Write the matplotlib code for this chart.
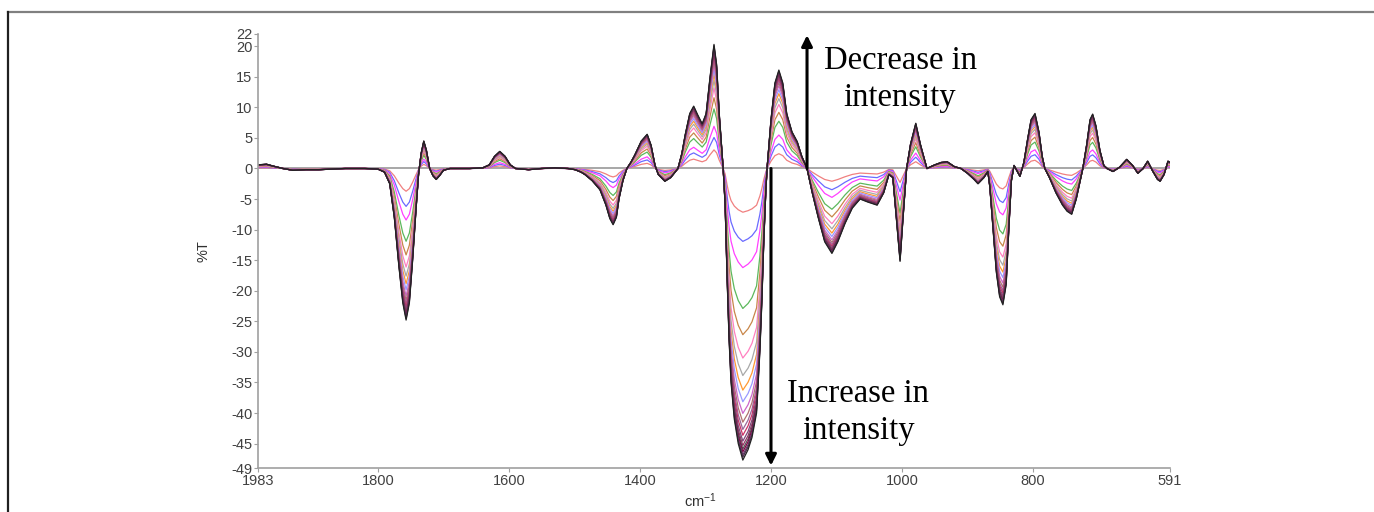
import matplotlib
matplotlib.use('Agg')
from matplotlib import pyplot as plt
from matplotlib.lines import Line2D
import numpy as np

plt.rcParams['font.family'] = ['Liberation Sans', 'DejaVu Sans']
plt.rcParams['mathtext.default'] = 'regular'

# wavenumbers (cm-1) of the outermost (last) spectrum
numeroOnda = [1983, 1970, 1960, 1945, 1930, 1910, 1890, 1870, 1850, 1820, 1800,
              1790, 1782, 1775, 1768, 1762, 1757, 1752, 1747, 1742, 1738, 1734,
              1730, 1726, 1721, 1716, 1711, 1706, 1700, 1690, 1660, 1640, 1630,
              1622, 1614, 1606, 1598, 1590, 1570, 1550, 1530, 1510, 1499, 1490,
              1484, 1473, 1461, 1452, 1446, 1441, 1436, 1432, 1426, 1420, 1414,
              1408, 1398, 1389, 1383, 1377, 1372, 1362, 1353, 1342, 1336, 1331,
              1324, 1318, 1312, 1305, 1299, 1293, 1287, 1283, 1279, 1273, 1270,
              1267, 1264, 1261, 1256, 1250, 1243, 1235, 1229, 1222, 1217, 1214,
              1211, 1208, 1206, 1200, 1194, 1188, 1182, 1176, 1168, 1160, 1153,
              1145, 1137, 1128, 1118, 1107, 1098, 1087, 1076, 1064, 1052, 1038,
              1028, 1020, 1014, 1008, 1003, 999, 993, 987, 979, 972, 962, 950,
              940, 931, 920, 910, 900, 890, 884, 875, 869, 866, 861, 856, 851,
              846, 841, 837, 833, 829, 824, 820, 814, 808, 803, 797, 791, 786,
              782, 775, 765, 755, 748, 741, 734, 728, 724, 718, 713, 709, 704,
              698, 692, 687, 678, 668, 657, 648, 640, 632, 625, 617, 610, 606,
              600, 596, 594, 591]

# %T of the outermost spectrum
transmitancia = [0.6, 0.7, 0.4, 0.0, -0.3, -0.2, -0.2, -0.1, 0.0, 0.0, -0.1,
                 -0.6, -2.5, -8, -16, -22, -24.8, -22, -15, -7, -1, 2.5,
                 4.5, 3, 0, -1.2, -1.8, -1.2, -0.3, 0, 0, 0.1, 0.6,
                 2, 2.8, 2, 0.6, 0, -0.2, 0, 0.1, 0, -0.2, -0.6,
                 -1, -2, -3.5, -6, -8.2, -9.2, -8, -5, -2, 0, 1,
                 2.2, 4.5, 5.6, 3.8, 0.5, -1, -2.1, -1.5, 0, 2.5, 5.5,
                 9, 10.2, 8.8, 7.3, 9, 15, 20.3, 17, 9, 0, -6,
                 -18, -28, -35, -41, -45, -47.7, -46, -44, -40, -30, -22,
                 -12, -4, 0, 8, 14, 16.1, 14, 9, 6, 4.4, 2,
                 0, -4, -8, -12, -13.9, -12, -9, -6.5, -5, -5.5, -6,
                 -4, -1, -1.5, -9, -15.2, -9, 0, 4, 7.4, 4, 0, 0.6,
                 1, 1.1, 0.3, 0, -0.8, -1.8, -2.5, -1.5, -0.5, -3, -10, -17, -21,
                 -22.3, -19, -10, -2, 0.5, -0.5, -1.3, 1, 5, 8, 9.0, 6, 2,
                 0, -1.5, -4, -6, -7, -7.5, -5, -2, 0, 4, 8, 8.9, 7,
                 3, 0.5, 0, -0.5, 0.2, 1.5, 0.5, -0.8, 0, 1.2, -0.5, -1.8, -2.1,
                 -1, 0.5, 1.2, 1.0]

# relative size of each spectrum compared to the last one
escalas = [0.15, 0.25, 0.34, 0.48, 0.57, 0.65, 0.71, 0.76, 0.8, 0.84, 0.87,
           0.895, 0.915, 0.935, 0.95, 0.962, 0.972, 0.982, 0.99, 1.0]

colores = ['#f08080', '#6a6aff', '#ff40ff', '#5cb85c', '#c8864a', '#ff80c0',
           '#a8a8a8', '#ff9933', '#9999ff', '#cc66cc', '#b07070', '#996699',
           '#cc3366', '#7a4a7a', '#993366', '#555555', '#800040', '#6b3a6b',
           '#4b2d4b', '#222222']

ticksX = [1983, 1800, 1600, 1400, 1200, 1000, 800, 591]
ticksY = [22, 20, 15, 10, 5, 0, -5, -10, -15, -20, -25, -30, -35, -40, -45, -49]

fig = plt.figure(figsize=(13.74, 5.12), dpi=100)
ax = fig.add_axes([0.1878, 0.0859, 0.6637, 0.8477])

x = np.array(numeroOnda)
y = np.array(transmitancia)
for escala, color in zip(escalas, colores):
    ax.plot(x, y * escala, color=color, lw=0.9)

ax.axhline(0, color='#a0a0a0', lw=1.3, zorder=0)

ax.set_xlim(1983, 591)
ax.set_ylim(-49, 22)
ax.set_xticks(ticksX)
ax.set_yticks(ticksY)
ax.set_xticklabels([str(t) for t in ticksX])
ax.set_yticklabels([str(t) for t in ticksY])
ax.tick_params(colors='#a0a0a0', labelcolor='#404040', labelsize=10.5,
               length=3, width=0.8, pad=1)

for lado in ['top', 'right']:
    ax.spines[lado].set_visible(False)
for lado in ['left', 'bottom']:
    ax.spines[lado].set_color('#a0a0a0')
    ax.spines[lado].set_linewidth(1.2)

ax.set_ylabel('%T', fontsize=10.5, color='#303030')
ax.yaxis.set_label_coords(-0.052, 0.5)
ax.set_xlabel('cm$^{-1}$', fontsize=10.5, color='#303030')
ax.xaxis.set_label_coords(0.485, -0.055)

# flechas y textos
ax.annotate('', xy=(1145, 21.8), xytext=(1145, 0),
            arrowprops=dict(arrowstyle='-|>', color='black', lw=2.2,
                            mutation_scale=16, shrinkA=0, shrinkB=0))
ax.annotate('', xy=(1200, -48.6), xytext=(1200, 0),
            arrowprops=dict(arrowstyle='-|>', color='black', lw=2.2,
                            mutation_scale=16, shrinkA=0, shrinkB=0))
ax.text(1003, 14.6, 'Decrease in\nintensity', ha='center', va='center',
        fontsize=23.5, family=['Liberation Serif', 'DejaVu Serif'],
        linespacing=1.3)
ax.text(1067, -39.9, 'Increase in\nintensity', ha='center', va='center',
        fontsize=23.5, family=['Liberation Serif', 'DejaVu Serif'],
        linespacing=1.3)

# marco exterior
fig.add_artist(Line2D([0.0055, 1.0], [0.9775, 0.9775], color='#808080', lw=1.6))
fig.add_artist(Line2D([0.0055, 0.0055], [0.0, 0.9775], color='#202020', lw=1.6))

fig.savefig('out.png', dpi=100)
